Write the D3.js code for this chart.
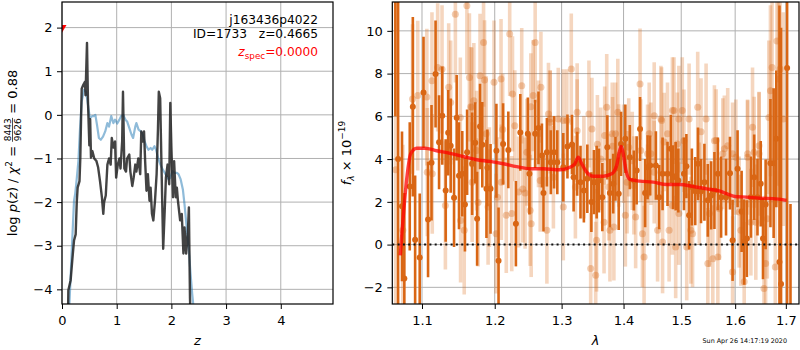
<!DOCTYPE html>
<html>
<head>
<meta charset="utf-8">
<script src="https://cdn.jsdelivr.net/npm/d3@7"></script>
<style>
  body { margin: 0; background: #fff; }
  svg { display: block; }
  text { font-family: "DejaVu Sans", sans-serif; fill: #000; }
</style>
</head>
<body>
<svg id="fig" width="800" height="350"></svg>
<script>
// ---------- redshift probability panel ----------
const pzZ = [
  0.10,0.116,0.158,0.19,0.22,0.25,0.27,0.286,0.32,0.335,
  0.35,0.36,0.39,0.42,0.43,0.457,0.475,0.50,0.515,0.53,
  0.555,0.59,0.63,0.66,0.695,0.73,0.755,0.77,0.80,0.83,
  0.86,0.89,0.91,0.94,0.97,0.99,1.02,1.05,1.07,1.10,
  1.115,1.14,1.17,1.19,1.23,1.25,1.285,1.31,1.34,1.36,
  1.395,1.43,1.45,1.475,1.50,1.52,1.545,1.57,1.60,1.62,
  1.645,1.67,1.70,1.73,1.755,1.77,1.795,1.82,1.85,1.88,
  1.90,1.93,1.96,1.98,2.0,2.03,2.05,2.08,2.10,2.12,
  2.16,2.19,2.22,2.24,2.27,2.30,2.32,2.34,2.37
];
const logPz = [
  -5.5,-4.02,-3.79,-3.3,-2.88,-2.74,-2.0,-1.67,-1.52,-0.99,
  0,0.6,0.69,0.76,0.45,1.65,0.3,-0.7,-0.1,-0.98,
  -0.83,-1.0,-1.06,-1.2,-1.52,-1.89,-2.27,-2.0,-1.85,-1.14,
  -1.0,-1.14,-0.53,-0.75,-0.61,-1.44,-1.14,-1.0,-1.23,-0.61,
  0.53,-1.23,-1.3,-1.0,-0.91,-1.3,-1.63,-1.44,-1.14,-1.3,
  -1.0,-1.36,-0.38,-0.61,-0.38,-1.06,-1.74,-1.36,-1.97,-1.67,
  -2.27,-2.42,-1.97,-1.36,-0.3,0.53,0.38,-1.23,-3.07,-2.12,
  -1.44,-1.14,-1.59,0.27,-0.75,-1.89,-1.06,-1.89,-1.67,-1.97,
  -2.42,-2.27,-3.18,-2.58,-3.18,-2.73,-2.12,-4.2,-5.5
];
const chiZ = [
  0.10,0.16,0.195,0.22,0.24,0.26,0.30,0.33,0.36,0.40,
  0.44,0.475,0.51,0.55,0.58,0.61,0.64,0.675,0.71,0.75,
  0.79,0.83,0.86,0.90,0.94,0.97,1.01,1.05,1.08,1.12,
  1.16,1.19,1.23,1.27,1.30,1.34,1.36,1.40,1.44,1.475,
  1.51,1.545,1.58,1.62,1.65,1.69,1.72,1.76,1.80,1.84,
  1.88,1.91,1.95,1.98,2.02,2.06,2.10,2.13,2.17,2.21,
  2.24,2.28,2.32,2.35,2.38,2.42,2.46
];
const chiLogP = [
  -5.3,-3.65,-2.65,-1.97,-1.82,-1.59,-1.06,-0.3,0.3,0.57,
  0.53,0.23,-0.08,-0.03,-0.03,0,-0.23,-0.53,-0.57,-0.5,
  -0.38,-0.19,-0.27,-0.03,-0.19,-0.11,-0.2,-0.11,-0.03,0,
  -0.11,-0.15,-0.3,-0.45,-0.53,-0.27,-0.19,-0.34,-0.38,-0.45,
  -0.61,-0.72,-0.8,-0.76,-0.8,-0.72,-0.8,-1.0,-1.14,-1.25,
  -1.33,-1.4,-1.48,-1.44,-1.29,-1.33,-1.33,-1.36,-1.48,-1.71,
  -2.05,-2.58,-3.11,-3.64,-4.1,-4.6,-5.3
];
const zTicks = [0, 1, 2, 3, 4];
const pzTicks = [-4, -3, -2, -1, 0, 1, 2];
const zSpec = 0.0, zSpecMarkY = 2.0;

// ---------- spectrum panel ----------
const darkLam = [
  1.0655,1.0690,1.074,1.077,1.084,1.088,1.091,1.097,1.102,1.108,
  1.1126,1.118,1.1227,1.127,1.1316,1.135,1.1384,1.143,1.1466,1.1498,
  1.1543,1.158,1.161,1.168,1.1723,1.175,1.1791,1.1823,1.1882,1.1895,
  1.194,1.2024,1.2055,1.2121,1.2197,1.2308,1.2373,1.2485,1.2509,1.2595,
  1.2645,1.2697,1.2721,1.2773,1.2833,1.2883,1.2933,1.3026,1.3091,1.3162,
  1.3188,1.3244,1.3297,1.3351,1.3406,1.3471,1.3513,1.3557,1.3594,1.3649,
  1.3731,1.3773,1.3828,1.3865,1.3919,1.3958,1.403,1.4105,1.4174,1.4221,
  1.4279,1.4366,1.4408,1.4453,1.4552,1.461,1.4669,1.4756,1.4814,1.4854,
  1.4901,1.4948,1.5049,1.5093,1.5142,1.5192,1.5254,1.5304,1.536,1.5422,
  1.5485,1.5547,1.5608,1.5672,1.5733,1.5826,1.5901,1.5951,1.6046,1.6124,
  1.6174,1.6226,1.6304,1.6368,1.6433,1.6497,1.6542,1.6594,1.669,1.6754,
  1.6807,1.6871,1.6903,1.7026,1.7095
];
const darkFlux = [
  13,4,1.79,-1.59,2.72,6.45,0.23,-0.61,7.12,1.17,
  3.83,7.98,4.79,6.03,2.53,5.23,4.63,2.19,5.93,3.22,
  3.31,1.88,4.32,3.78,4.76,1.21,5.53,4.67,2.61,3.59,
  2.61,4.39,-0.76,4.71,4.43,0.98,5.25,5.18,3.31,5.18,
  5.46,4.17,2.41,4.32,3.85,4.32,3.85,3.62,4.59,4.68,
  3.15,3.78,2.92,2.53,3.08,1.99,2.92,2.92,3.0,2.22,
  4.55,2.41,2.85,3.55,2.38,4.71,4.95,4.09,3.0,3.47,
  5.41,2.41,3.62,3.7,3.7,2.22,3.31,3.31,4.48,3.15,
  3.2,3.0,3.31,3.67,1.37,2.69,2.5,3.78,2.5,2.92,
  2.07,2.3,2.53,3.31,2.22,2.22,3.34,0.2,3.55,1.55,
  0.12,0.28,2.22,3.15,2.22,2.85,0.28,1.88,3.81,3.81,
  4.95,-0.81,-1.85,8.26,-3.5
];
const darkErr = [
  7,15,3.5,4,3,4.2,3,3,2.6,2.7,
  2.7,2.5,2.2,2.3,2.4,2.0,2.2,2.3,2.0,2.5,
  2.0,2.2,2.0,2.4,1.9,2.2,2.0,2.0,2.3,1.8,
  2.1,2.2,2.5,1.9,1.8,2.0,1.8,1.7,1.9,1.6,
  1.7,1.5,1.8,1.6,1.5,1.7,1.5,1.6,1.5,1.4,
  1.6,1.5,1.7,1.5,1.6,1.4,1.5,1.7,1.5,1.6,
  1.5,1.6,1.4,1.5,1.7,1.5,1.6,1.5,1.4,1.6,
  1.5,1.6,1.5,1.4,1.6,1.5,1.7,1.5,1.6,1.5,
  1.6,1.5,1.7,1.5,1.6,1.8,1.6,1.7,1.5,1.8,
  1.7,1.6,1.8,1.7,1.9,1.8,1.7,1.9,1.8,1.9,
  2.0,1.8,1.9,2.0,1.8,2.0,1.9,2.1,3.0,3.5,
  3.2,12,12,12,5.4
];
const lightLam = [
  1.0660,1.0751,1.0876,1.0944,1.1064,1.1070,1.1132,1.1208,1.1267,1.1312,
  1.1357,1.1448,1.1516,1.157,1.1607,1.1642,1.1675,1.1743,1.1764,1.1841,
  1.1855,1.1878,1.1923,1.199,1.2039,1.2091,1.2115,1.2167,1.2217,1.2258,
  1.2292,1.2394,1.2444,1.247,1.252,1.2535,1.2595,1.253,1.2565,1.2645,
  1.2671,1.2682,1.2773,1.2797,1.2823,1.2873,1.2948,1.3026,1.3081,1.3151,
  1.3216,1.3244,1.3351,1.3432,1.346,1.3541,1.3555,1.3569,1.3623,1.3677,
  1.3721,1.3774,1.3839,1.3867,1.3904,1.4,1.4059,1.4146,1.4204,1.4279,
  1.432,1.4348,1.4408,1.4465,1.4523,1.4582,1.464,1.4669,1.4697,1.4784,
  1.4871,1.4901,1.4958,1.5049,1.5099,1.5142,1.5205,1.5299,1.536,1.5453,
  1.5485,1.5578,1.5608,1.5672,1.5765,1.5858,1.5951,1.6013,1.6109,1.6174,
  1.6239,1.6336,1.64,1.6464,1.6561,1.6594,1.6658,1.669,1.6723,1.6787,
  1.682,1.6851,1.6884,1.6948,1.3244,1.348,1.3817,1.2823,1.3026,1.2410,
  1.3812,1.3687,1.4436,1.4652,1.4756,1.4843,1.4408,1.4291,1.4087,1.3919,
  1.493,1.4174,1.4523,1.3757,1.403,1.4843,1.5019,1.564,1.5795,1.5951,
  1.624,1.6368,1.6464,1.5328,1.5515,1.5701,1.6077,1.6304,1.6627,1.4958,
  1.5174,1.1136,1.152,1.166,1.1704,1.1384,1.168,1.1791,1.2095,1.2247,
  1.2348,1.1905,1.202
];
const lightFlux = [
  3.5,0.67,6.81,6.97,6.9,3.39,7.67,8.29,8.2,1.83,
  7.36,10.78,5.95,0.67,11.17,7.82,6.42,4.4,1.97,9.45,
  7.7,5.18,2.69,7.59,2.22,7.75,5.39,1.37,9.85,7.05,
  5.56,7.43,2.41,4.32,1.6,0.98,9.45,6.45,6.97,5.18,
  3.0,7.36,0.67,6.11,5.87,3.15,5.87,1.76,5.8,8.21,
  2.69,6.19,3.62,6.11,-1.12,-1.43,0.2,4.7,4.01,1.05,
  6.42,0.67,0.82,5.18,6.19,4.25,2.92,3.92,1.29,7.51,
  0.51,-0.58,2.38,4.25,6.03,0.67,5.87,0.12,4.8,0.67,
  6.27,-0.11,5.87,4.86,-0.11,5.87,0.51,6.42,5.28,5.87,
  -0.89,-0.66,4.86,-0.58,4.25,4.63,-1.28,4.09,0.67,-1.74,
  4.09,5.49,1.05,4.25,-2.05,-0.89,5.95,7.2,8.29,-1.05,
  9.53,7.75,8.21,5.87,5.33,5.41,4.6,5.72,5.8,2.6,
  5.18,5.1,5.18,5.8,5.18,6.27,4.25,4.4,4.55,4.17,
  4.71,2.77,3.39,2.69,1.37,1.83,6.27,4.87,4.48,4.25,
  4.25,4.32,4.63,2.38,1.45,1.68,1.52,1.05,1.21,1.45,
  0.67,3.31,1.13,6.45,6.73,6.65,2.92,7.9,2.92,1.45,
  2.46,1.76,0.51
];
const lightErr = [
  8,4,3.5,3.5,3.2,3.0,3.2,3.0,3.0,3.0,
  3.0,3.2,2.8,3.0,3.2,3.0,2.8,2.8,3.0,3.0,
  2.8,2.7,2.8,2.9,2.8,2.8,2.6,2.7,2.9,2.7,
  2.6,2.7,2.6,2.5,2.6,2.5,2.8,2.5,2.6,2.5,
  2.4,2.6,2.5,2.4,2.3,2.4,2.4,2.5,2.4,2.6,
  2.4,2.3,2.4,2.5,2.6,2.5,2.4,2.3,2.4,2.4,
  2.5,2.4,2.5,2.4,2.5,2.3,2.4,2.3,2.4,2.6,
  2.5,2.4,2.3,2.4,2.5,2.4,2.5,2.4,2.3,2.4,
  2.5,2.4,2.5,2.4,2.5,2.6,2.5,2.6,2.5,2.6,
  2.6,2.5,2.6,2.5,2.6,2.7,2.6,2.7,2.6,2.8,
  2.7,2.8,2.7,2.9,3.0,3.2,3.6,4.0,4.5,4.5,
  5.5,5.0,5.5,5.0,2.4,2.4,2.3,2.4,2.4,2.5,
  2.4,2.3,2.4,2.5,2.4,2.5,2.3,2.4,2.3,2.4,
  2.4,2.3,2.4,2.5,2.4,2.3,2.5,2.4,2.5,2.4,
  2.5,2.6,2.5,2.4,2.5,2.4,2.6,2.5,2.8,2.4,
  2.5,2.8,2.9,2.8,2.7,2.9,2.8,2.9,2.7,2.7,
  2.6,2.7,2.8
];
const modelLam = [
  1.0718,1.0740,1.0766,1.0808,1.0852,1.0930,1.1039,1.1195,1.1375,1.1557,
  1.1744,1.1932,1.2123,1.2319,1.2517,1.2717,1.2974,1.3130,1.3209,1.3261,
  1.3316,1.3395,1.3501,1.3664,1.3802,1.3885,1.3928,1.3961,1.3995,1.4040,
  1.4107,1.4277,1.4506,1.4740,1.4977,1.5217,1.5463,1.5711,1.5837,1.5995,
  1.6221,1.6480,1.6745,1.7015
];
const modelFlux = [
  -0.5,0.6,1.75,3.31,4.25,4.51,4.51,4.39,4.27,4.12,
  3.97,3.89,3.78,3.65,3.55,3.55,3.5,3.62,3.78,4.09,
  3.78,3.39,3.2,3.2,3.31,3.7,4.32,4.59,4.25,3.47,
  3.05,2.97,2.92,2.81,2.81,2.72,2.61,2.5,2.38,2.25,
  2.22,2.17,2.15,2.07
];
const lamTicks = [1.1, 1.2, 1.3, 1.4, 1.5, 1.6, 1.7];
const fluxTicks = [-2, 0, 2, 4, 6, 8, 10];

const fieldName = "j163436p4022";
const objId = 1733, zBest = 0.4665;
const chiNum = 8443, chiDen = 9626, chiRatio = 0.88;
const stamp = "Sun Apr 26 14:17:19 2020";

// ---------- layout ----------
const svg = d3.select("#fig");
const L = { x0: 62, x1: 333, y0: 2, y1: 304 };
const R = { x0: 392.3, x1: 799, y0: 2, y1: 304 };
const FONT = 13;
const GRID = "#b0b0b0";
const ORANGE = "#d96614";
const NB = "\u00a0";

const zx = d3.scaleLinear().domain([0, 4.955]).range([L.x0, L.x1]);
const zy = d3.scaleLinear().domain([-4.336, 2.587]).range([L.y1, L.y0]);
const lx = d3.scaleLog().domain([1.0616, 1.727]).range([R.x0, R.x1]);
const fy = d3.scaleLinear().domain([-2.78, 11.35]).range([R.y1, R.y0]);

const defs = svg.append("defs");
defs.append("clipPath").attr("id", "clipL").append("rect")
  .attr("x", L.x0).attr("y", L.y0).attr("width", L.x1 - L.x0).attr("height", L.y1 - L.y0);
defs.append("clipPath").attr("id", "clipR").append("rect")
  .attr("x", R.x0).attr("y", R.y0).attr("width", R.x1 - R.x0).attr("height", R.y1 - R.y0);

function grid(box, xs, ys, xTicks, yTicks) {
  const g = svg.append("g");
  g.selectAll(null).data(xTicks).join("line")
    .attr("x1", d => xs(d)).attr("x2", d => xs(d)).attr("y1", box.y0).attr("y2", box.y1)
    .attr("stroke", GRID).attr("stroke-width", 1);
  g.selectAll(null).data(yTicks).join("line")
    .attr("y1", d => ys(d)).attr("y2", d => ys(d)).attr("x1", box.x0).attr("x2", box.x1)
    .attr("stroke", GRID).attr("stroke-width", 1);
}

function axes(box, xs, ys, xTicks, yTicks, xFmt, yFmt) {
  const ax = svg.append("g").attr("transform", `translate(0,${box.y1})`)
    .call(d3.axisBottom(xs).tickValues(xTicks).tickFormat(xFmt).tickSize(5).tickPadding(6.8));
  const ay = svg.append("g").attr("transform", `translate(${box.x0},0)`)
    .call(d3.axisLeft(ys).tickValues(yTicks).tickFormat(yFmt).tickSize(5).tickPadding(4.5));
  [ax, ay].forEach(a => {
    a.select(".domain").remove();
    a.selectAll(".tick line").attr("stroke", "#000").attr("stroke-width", 1);
    a.selectAll(".tick text").attr("font-size", FONT)
      .attr("font-family", "DejaVu Sans, sans-serif").attr("fill", "#000");
  });
  svg.append("rect").attr("x", box.x0).attr("y", box.y0)
    .attr("width", box.x1 - box.x0).attr("height", box.y1 - box.y0)
    .attr("fill", "none").attr("stroke", "#000").attr("stroke-width", 1.2);
}

const minusFmt = d => d3.format("d")(d).replace("-", "\u2212");

// ---------- left panel: p(z) ----------
grid(L, zx, zy, zTicks, pzTicks);
const gL = svg.append("g").attr("clip-path", "url(#clipL)");
const lineZ = () => d3.line().x(d => zx(d[0])).y(d => zy(d[1]));

gL.append("path")
  .datum(chiZ.map((z, i) => [z, chiLogP[i]]))
  .attr("d", lineZ())
  .attr("fill", "none").attr("stroke", "#1f77b4").attr("stroke-opacity", 0.5)
  .attr("stroke-width", 2.2).attr("stroke-linejoin", "round");

gL.append("path")
  .datum(pzZ.map((z, i) => [z, logPz[i]]))
  .attr("d", lineZ())
  .attr("fill", "none").attr("stroke", "#222").attr("stroke-opacity", 0.85)
  .attr("stroke-width", 2.4).attr("stroke-linejoin", "round");

gL.append("path")
  .attr("d", d3.symbol(d3.symbolTriangle, 35)())
  .attr("transform", `translate(${zx(zSpec)},${zy(zSpecMarkY)}) rotate(180)`)
  .attr("fill", "red");

axes(L, zx, zy, zTicks, pzTicks, d3.format("d"), minusFmt);

// annotation block, right-aligned inside the p(z) axes
const annX = 318, annFont = 12.2;
svg.append("text").attr("x", annX).attr("y", 24).attr("text-anchor", "end")
  .attr("font-size", annFont).text(fieldName);
svg.append("text").attr("x", annX).attr("y", 38).attr("text-anchor", "end")
  .attr("font-size", annFont)
  .text(`ID=${objId}${NB}${NB}${NB}z=${zBest.toFixed(4)}`);
const zs = svg.append("text").attr("x", annX).attr("y", 56).attr("text-anchor", "end")
  .attr("font-size", annFont).style("fill", "red");
zs.append("tspan").attr("font-style", "italic").style("fill", "red").text("z");
zs.append("tspan").attr("font-size", 8.8).attr("dy", 2.5).style("fill", "red").text("spec");
zs.append("tspan").attr("dy", -2.5).style("fill", "red").text(`=${zSpec.toFixed(4)}`);

// axis labels
svg.append("text").attr("x", (L.x0 + L.x1) / 2).attr("y", 345).attr("text-anchor", "middle")
  .attr("font-size", FONT).attr("font-style", "italic").text("z");

(function leftYLabel() {
  const g = svg.append("g").attr("transform", `translate(17,${(L.y0 + L.y1) / 2}) rotate(-90)`);
  const inner = g.append("g");
  const t = inner.append("text").attr("font-size", FONT);
  t.append("tspan").text("log" + NB);
  t.append("tspan").attr("font-style", "italic").text("p");
  t.append("tspan").text("(");
  t.append("tspan").attr("font-style", "italic").text("z");
  t.append("tspan").text(`)${NB}/${NB}`);
  t.append("tspan").attr("font-style", "italic").text("\u03c7");
  t.append("tspan").attr("font-size", 9).attr("dy", -5.5).text("2");
  t.append("tspan").attr("dy", 5.5).text(`${NB}=${NB}`);
  const w1 = t.node().getComputedTextLength();
  const num = inner.append("text").attr("font-size", 9).attr("text-anchor", "middle").text(chiNum);
  const den = inner.append("text").attr("font-size", 9).attr("text-anchor", "middle").text(chiDen);
  const fw = Math.max(num.node().getComputedTextLength(), den.node().getComputedTextLength()) + 1;
  num.attr("x", w1 + fw / 2).attr("y", -6.5);
  den.attr("x", w1 + fw / 2).attr("y", 3.5);
  inner.append("line").attr("x1", w1).attr("x2", w1 + fw).attr("y1", -4.5).attr("y2", -4.5)
    .attr("stroke", "#000").attr("stroke-width", 0.7);
  const t2 = inner.append("text").attr("font-size", FONT).attr("x", w1 + fw)
    .text(`${NB}=${NB}${chiRatio.toFixed(2)}`);
  const W = w1 + fw + t2.node().getComputedTextLength();
  inner.attr("transform", `translate(${-W / 2},0)`);
})();

// ---------- right panel: spectrum ----------
grid(R, lx, fy, lamTicks, fluxTicks);
const gR = svg.append("g").attr("clip-path", "url(#clipR)");

function errorPoints(lam, flux, err, style) {
  const pts = lam.map((l, i) => ({ l, f: flux[i], e: err[i] }));
  const g = gR.append("g");
  g.selectAll("line").data(pts).join("line")
    .attr("x1", d => lx(d.l)).attr("x2", d => lx(d.l))
    .attr("y1", d => fy(d.f - d.e)).attr("y2", d => fy(d.f + d.e))
    .attr("stroke", ORANGE).attr("stroke-opacity", style.barAlpha)
    .attr("stroke-width", style.barWidth);
  g.selectAll("circle").data(pts).join("circle")
    .attr("cx", d => lx(d.l)).attr("cy", d => fy(d.f)).attr("r", style.r)
    .attr("fill", ORANGE).attr("fill-opacity", style.dotAlpha);
}
// lower-weight pixels (faint) underneath, full-weight pixels on top
errorPoints(lightLam, lightFlux, lightErr, { barAlpha: 0.27, barWidth: 3.6, r: 3.5, dotAlpha: 0.33 });
errorPoints(darkLam, darkFlux, darkErr, { barAlpha: 1, barWidth: 2.6, r: 3, dotAlpha: 1 });

gR.append("path")
  .datum(modelLam.map((l, i) => [l, modelFlux[i]]))
  .attr("d", d3.line().x(d => lx(d[0])).y(d => fy(d[1])).curve(d3.curveMonotoneX))
  .attr("fill", "none").attr("stroke", "#ff0000").attr("stroke-opacity", 0.75)
  .attr("stroke-width", 3.4).attr("stroke-linejoin", "round");

gR.append("line")
  .attr("x1", R.x0).attr("x2", R.x1).attr("y1", fy(0)).attr("y2", fy(0))
  .attr("stroke", "#111").attr("stroke-width", 2).attr("stroke-dasharray", "2,3.3");

axes(R, lx, fy, lamTicks, fluxTicks, d3.format(".1f"), minusFmt);

svg.append("text").attr("x", (R.x0 + R.x1) / 2).attr("y", 345).attr("text-anchor", "middle")
  .attr("font-size", FONT).attr("font-style", "italic").text("\u03bb");

(function rightYLabel() {
  const g = svg.append("g").attr("transform", `translate(351,${(R.y0 + R.y1) / 2}) rotate(-90)`);
  const t = g.append("text").attr("font-size", FONT).attr("text-anchor", "middle");
  t.append("tspan").attr("font-style", "italic").text("f");
  t.append("tspan").attr("font-style", "italic").attr("font-size", 9).attr("dy", 3).text("\u03bb");
  t.append("tspan").attr("dy", -3).text(`${NB}\u00d7${NB}10`);
  t.append("tspan").attr("font-size", 9).attr("dy", -6).text("\u221219");
})();

svg.append("text").attr("x", 787).attr("y", 342.5).attr("text-anchor", "end")
  .attr("font-size", 6.4).text(stamp);
</script>
</body>
</html>
